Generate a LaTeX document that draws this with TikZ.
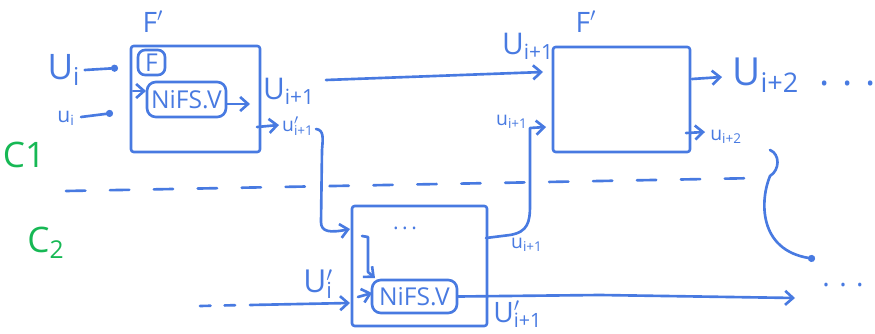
\documentclass[tikz,border=0pt]{standalone}
\usepackage{fontspec}
\setmainfont{Open Sans}
\setsansfont{Open Sans}
\usetikzlibrary{arrows.meta,calc}
\definecolor{ink}{RGB}{72,122,225}
\definecolor{chalk}{RGB}{22,184,84}
\newcommand{\fs}[1]{\fontsize{#1}{#1}\selectfont}
\newcommand{\pr}{\rlap{$'$}}
\begin{document}
\begin{tikzpicture}[x=0.02cm,y=-0.02cm,
  ink/.style={draw=ink, line width=1.5pt, line cap=round, line join=round},
  barb/.style={-{Straight Barb[length=4.5pt,width=8pt,line width=1.5pt]}},
  dotend/.style={-{Circle[length=4pt]}},
  frame/.style={ink, rounded corners=1.5pt, inner sep=0pt},
  core/.style={ink, rounded corners=5pt, inner sep=0pt, text=ink, font=\fs{14}},
  lab/.style={text=ink, inner sep=0pt},
  side/.style={text=chalk, inner sep=0pt},
  seam/.style={ink, dash pattern=on 11pt off 14pt}
]
\useasboundingbox (0,0) rectangle (875,334);

% ---------- upper layer: two F' blocks ----------
\node[frame, minimum width=2.58cm, minimum height=2.12cm] (b1) at (195.5,99) {};
\node[frame, minimum width=2.74cm, minimum height=2.10cm] (b2) at (621.5,99.5) {};
\node[core, minimum width=0.54cm, minimum height=0.50cm, rounded corners=4pt] (f) at (151.5,62.5) {F};
\node[core, minimum width=1.58cm, minimum height=0.70cm] (n1) at (186.5,99.5) {NiFS.V};

\node[lab, font=\fs{16}] (t1) at (153,22) {F$'$};
\node[lab, font=\fs{16}] (t2) at (586,22) {F$'$};

\node[lab, font=\fs{20}] (Ui) at (64,70) {U\textsubscript{i}};
\node[lab, font=\fs{12}] (ui) at (66,118) {u\textsubscript{i}};
\node[lab, font=\fs{17}] (Uo) at (289,91) {U\textsubscript{i+1}};
\node[lab, font=\fs{11}] (uo) at (298,126) {u\pr\textsubscript{i+1}};
\node[lab, font=\fs{17}] (Uin) at (528,46) {U\textsubscript{i+1}};
\node[lab, font=\fs{11}] (uin) at (512,122) {u\textsubscript{i+1}};
\node[lab, font=\fs{22}, anchor=west] (Uo2) at (732,75) {U\textsubscript{i+2}\ \ .\,\,.\,\,.};
\node[lab, font=\fs{11}, anchor=west] (uo2) at (710,137) {u\textsubscript{i+2}};

\coordinate (pUi) at (118,68);
\coordinate (pui) at (113,113);
\coordinate (pn1a) at (133,91);
\coordinate (pn1b) at (146,91);
\coordinate (pn1o) at (250,104);
\coordinate (pb1u) at (257,127);
\coordinate (pb1ue) at (279,125);
\coordinate (pU) at (326,80);
\coordinate (pUe) at (543,72);
\coordinate (pb2U) at (692,79);
\coordinate (pb2Ue) at (722,77);
\coordinate (pb2u) at (686,133);
\coordinate (pb2ue) at (705,132);

\draw[ink, dotend] (Ui.east) ++(4,0) -- (pUi);
\draw[ink, dotend] (ui.east) ++(6,-1) -- (pui);
\draw[ink, barb] (pn1a) -- (pn1b);
\draw[ink, barb] (n1.east |- pn1o) -- (pn1o);
\draw[ink, barb] (pb1u) -- (pb1ue);
\draw[ink, barb] (pU) -- (pUe);
\draw[ink, barb] (pb2U) -- (pb2Ue);
\draw[ink, barb] (pb2u) -- (pb2ue);

% ---------- layer boundary ----------
\node[side, font=\fs{20}] (c1) at (24,155) {C1};
\node[side, font=\fs{20}] (c2) at (46,243) {C\textsubscript{2}};
\coordinate (sa) at (66,191);
\coordinate (sb) at (760,178);
\draw[seam] (sa) -- (sb);

% ---------- lower layer block ----------
\node[frame, minimum width=2.70cm, minimum height=2.40cm] (b3) at (419.5,266) {};
\node[core, minimum width=1.70cm, minimum height=0.66cm] (n3) at (414.5,296.5) {NiFS.V};
\node[lab, font=\fs{12}] (dots3) at (405,228) {.\,.\,.};
\node[lab, font=\fs{18}] (Ui2) at (318,284) {U\pr\textsubscript{i}};
\node[lab, font=\fs{11}] (ub) at (527,245) {u\textsubscript{i+1}};
\node[lab, font=\fs{16}, anchor=west] (Uo3) at (493,314) {U\pr\textsubscript{i+1}};
\node[lab, font=\fs{16}] (dend) at (843,285) {.\,\,.\,\,.};

\coordinate (pd0) at (200,306);
\coordinate (pd1) at (244,305);
\coordinate (pin3) at (350,303);
\coordinate (pk0) at (362,236);
\coordinate (pk1) at (375,278);
\coordinate (pl0) at (358,297);
\coordinate (pl1) at (372,293);
\coordinate (pout) at (795,298);
\coordinate (pr0) at (486,238);
\coordinate (pr1) at (546,127);
\coordinate (pu0) at (316,129);
\coordinate (pu1) at (350,229);
\coordinate (pc0) at (770,150);
\coordinate (pc1) at (815,259);

% lead-in to the lower block
\draw[ink, dash pattern=on 6pt off 8pt] (pd0) -- (pd1);
\draw[ink, barb] (pd1) ++(6,0) -- (pin3);
\draw[ink, barb] (pl0) -- (pl1);
\draw[ink, barb] (pk0) -- (368,237) -- (368,272) -- (pk1);
\draw[ink, barb] (n3.east) -- (600,295) -- (pout);

% state passed between the layers
\draw[ink, barb] (pu0) .. controls (324,130) and (323,138) .. (322,150)
  -- (321,222) .. controls (321,232) and (330,233) .. (pu1);
\draw[ink, barb] (pr0) -- (510,235) .. controls (528,232) and (530,222) .. (530,205)
  -- (530,128) -- (pr1);
\draw[ink, dotend] (pc0) .. controls (780,154) and (780,170) .. (770,176)
  .. controls (760,200) and (758,250) .. (pc1);
\end{tikzpicture}
\end{document}
